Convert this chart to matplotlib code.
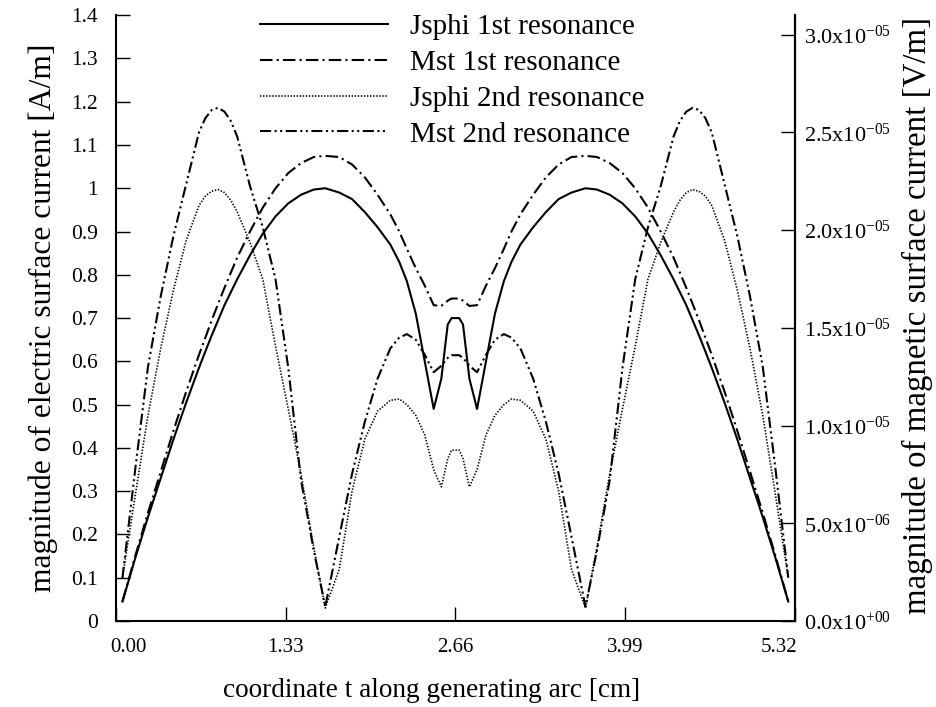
import matplotlib.pyplot as plt
import matplotlib.transforms as mtransforms
from matplotlib.ticker import FormatStrFormatter
import numpy as np

plt.rcParams['font.family'] = ['Liberation Serif', 'DejaVu Serif']
plt.rcParams['mathtext.default'] = 'regular'
plt.rcParams['lines.scale_dashes'] = False

# coordinate along the generating arc [cm]
t = [0.05, 0.15, 0.25, 0.35, 0.45, 0.55, 0.65, 0.70, 0.75, 0.80, 0.85, 0.90, 0.95,
     1.05, 1.15, 1.25, 1.35, 1.45, 1.55, 1.64, 1.75, 1.85, 1.95, 2.05,
     2.15, 2.22, 2.28, 2.35, 2.42, 2.49, 2.55, 2.60, 2.63,
     2.69, 2.72, 2.77, 2.83, 2.90, 2.97, 3.04, 3.10, 3.17, 3.27, 3.37,
     3.47, 3.57, 3.68, 3.77, 3.87, 3.97, 4.07, 4.17, 4.27, 4.37, 4.42, 4.47,
     4.52, 4.57, 4.62, 4.67, 4.77, 4.87, 4.97, 5.07, 5.17, 5.27]

# electric surface current [A/m]
jsphi_1st = [0.045, 0.145, 0.24, 0.33, 0.42, 0.505, 0.585, 0.623, 0.66, 0.695, 0.73, 0.76, 0.79,
             0.845, 0.895, 0.935, 0.965, 0.985, 0.997, 1.0, 0.99, 0.975, 0.945, 0.91,
             0.87, 0.83, 0.785, 0.71, 0.60, 0.49, 0.56, 0.685, 0.70,
             0.70, 0.685, 0.56, 0.49, 0.60, 0.71, 0.785, 0.83, 0.87, 0.91, 0.945,
             0.975, 0.99, 1.0, 0.997, 0.985, 0.965, 0.935, 0.895, 0.845, 0.79, 0.76, 0.73,
             0.695, 0.66, 0.623, 0.585, 0.505, 0.42, 0.33, 0.24, 0.145, 0.045]

jsphi_2nd = [0.10, 0.29, 0.475, 0.63, 0.765, 0.88, 0.96, 0.982, 0.993, 0.997, 0.99, 0.972, 0.945,
             0.875, 0.79, 0.635, 0.49, 0.34, 0.17, 0.03, 0.12, 0.30, 0.42, 0.485,
             0.51, 0.513, 0.50, 0.475, 0.43, 0.35, 0.31, 0.375, 0.395,
             0.395, 0.375, 0.31, 0.35, 0.43, 0.475, 0.50, 0.513, 0.51, 0.485, 0.42,
             0.30, 0.12, 0.03, 0.17, 0.34, 0.49, 0.635, 0.79, 0.875, 0.945, 0.972, 0.99,
             0.997, 0.993, 0.982, 0.96, 0.88, 0.765, 0.63, 0.475, 0.29, 0.10]

# magnetic surface current [V/m], in units of 1e-5
mst_1st = np.array([0.100, 0.332, 0.554, 0.764, 0.974, 1.174, 1.362, 1.450, 1.539, 1.623, 1.705,
                    1.783, 1.860,
                    1.993, 2.115, 2.214, 2.292, 2.343, 2.374, 2.380, 2.374, 2.336, 2.270, 2.181,
                    2.081, 1.993, 1.904, 1.805, 1.716, 1.616, 1.612, 1.639, 1.650,
                    1.650, 1.639, 1.612, 1.616, 1.716, 1.805, 1.904, 1.993, 2.081, 2.181, 2.270,
                    2.336, 2.374, 2.380, 2.374, 2.343, 2.292, 2.214, 2.115, 1.993, 1.860, 1.783,
                    1.705, 1.623, 1.539, 1.450, 1.362, 1.174, 0.974, 0.764, 0.554, 0.332,
                    0.100]) * 1e-5

mst_2nd = np.array([0.221, 0.775, 1.300, 1.661, 1.971, 2.236, 2.500, 2.573, 2.615, 2.626, 2.606,
                    2.558, 2.478,
                    2.225, 2.015, 1.749, 1.295, 0.720, 0.361, 0.073, 0.432, 0.753, 1.019, 1.240,
                    1.395, 1.450, 1.468, 1.439, 1.362, 1.273, 1.306, 1.346, 1.360,
                    1.360, 1.346, 1.306, 1.273, 1.362, 1.439, 1.468, 1.450, 1.395, 1.240, 1.019,
                    0.753, 0.432, 0.073, 0.361, 0.720, 1.295, 1.749, 2.015, 2.225, 2.478, 2.558,
                    2.606, 2.626, 2.615, 2.573, 2.500, 2.236, 1.971, 1.661, 1.300, 0.775,
                    0.221]) * 1e-5

x_ticks = [0.00, 1.33, 2.66, 3.99, 5.32]
x_tick_labels = ['0.00', '1.33', '2.66', '3.99', '5.32']
left_ticks = np.arange(0, 1.41, 0.1)
right_ticks = [0, 5e-6, 1e-5, 1.5e-5, 2e-5, 2.5e-5, 3e-5]
right_tick_labels = ['0.0x10$^{+00}$', '5.0x10$^{-06}$', '1.0x10$^{-05}$', '1.5x10$^{-05}$',
                     '2.0x10$^{-05}$', '2.5x10$^{-05}$', '3.0x10$^{-05}$']

fig = plt.figure(figsize=(9.36, 7.07), dpi=100)
ax = fig.add_axes([0.124, 0.1216, 0.725, 0.857])
ax2 = ax.twinx()

l1, = ax.plot(t, jsphi_1st, color='black', lw=1.5, label='Jsphi 1st resonance')
l3, = ax.plot(t, jsphi_2nd, color='black', lw=1.2, linestyle=(0, (1, 1.2)),
              label='Jsphi 2nd resonance')
l2, = ax2.plot(t, mst_1st, color='black', lw=1.5, linestyle=(0, (9, 3, 1.5, 3)),
               label='Mst 1st resonance')
l4, = ax2.plot(t, mst_2nd, color='black', lw=1.5,
               linestyle=(0, (8, 2.5, 1.5, 2.5, 1.5, 2.5)), label='Mst 2nd resonance')

ax.set_xlim(0, 5.32)
ax.set_ylim(0, 1.4)
ax2.set_ylim(0, 3.1e-5)

ax.set_xticks(x_ticks)
ax.set_xticklabels(x_tick_labels)
ax.set_yticks(left_ticks)
ax.yaxis.set_major_formatter(FormatStrFormatter('%g'))
ax2.set_yticks(right_ticks)
ax2.set_yticklabels(right_tick_labels)

for a in (ax, ax2):
    a.spines['top'].set_visible(False)
    for s in a.spines.values():
        s.set_linewidth(1.5)
ax2.spines['left'].set_visible(False)
ax2.spines['bottom'].set_visible(False)

ax.tick_params(axis='x', direction='in', length=10, width=1, labelsize=15, pad=12)
ax.tick_params(axis='y', direction='in', length=10, width=1, labelsize=15.5, pad=13)
ax2.tick_params(axis='y', direction='in', length=10, width=1, labelsize=16, pad=7)

# pull the outer x tick labels in towards the plot
tl = ax.get_xticklabels()
tl[0].set_transform(tl[0].get_transform() +
                    mtransforms.ScaledTranslation(12 / 100, 0, fig.dpi_scale_trans))
tl[-1].set_transform(tl[-1].get_transform() +
                     mtransforms.ScaledTranslation(-16 / 100, 0, fig.dpi_scale_trans))

ax.set_xlabel('coordinate t along generating arc [cm]', fontsize=19.6)
ax.xaxis.set_label_coords(0.465, -0.094)
ax.set_ylabel('magnitude of electric surface current [A/m]', fontsize=22.7)
ax.yaxis.set_label_coords(-0.085, 0.5)
ax2.set_ylabel('magnitude of magnetic surface current [V/m]', fontsize=23.7)
ax2.yaxis.set_label_coords(1.158, 0.505)

fig.legend(handles=[l1, l2, l3, l4], loc='upper left', bbox_to_anchor=(260 / 936, 1 - 14 / 707),
           frameon=False, fontsize=21, handlelength=4.4, handletextpad=0.75,
           labelspacing=0.32, borderpad=0, borderaxespad=0)

fig.savefig('out.png', dpi=100)
